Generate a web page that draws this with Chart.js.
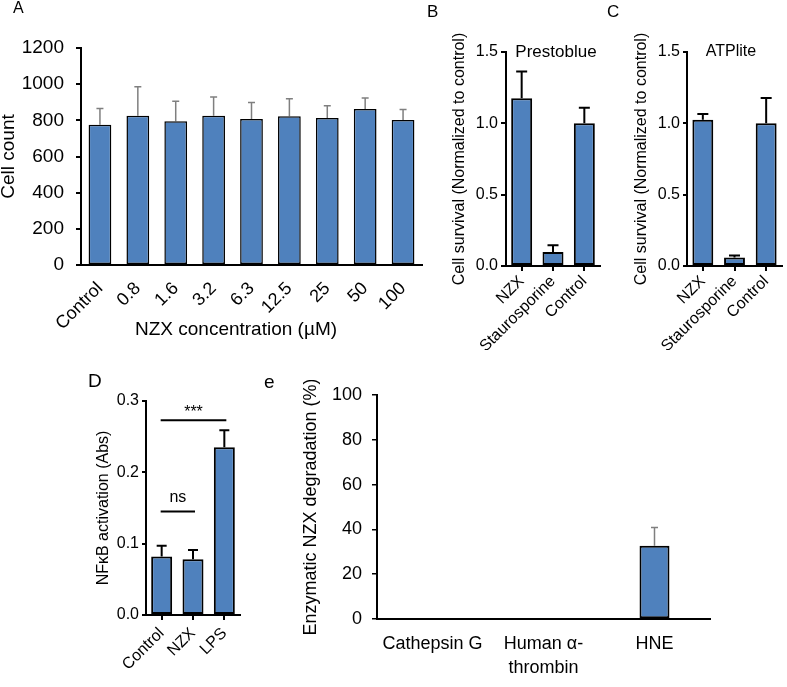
<!DOCTYPE html>
<html><head><meta charset="utf-8">
<script src="https://cdn.jsdelivr.net/npm/chart.js@4/dist/chart.umd.min.js"></script>
<style>
html,body{margin:0;padding:0;background:#fff;}
#fig{position:relative;width:787px;height:687px;overflow:hidden;background:#fff;font-family:'Liberation Sans',Arial,sans-serif;color:#000;}
#fig canvas{position:absolute;}
.lab{position:absolute;line-height:1;white-space:nowrap;}
</style></head><body>
<div id="fig">
<canvas id="cA" width="430" height="345" style="left:0px;top:0px"></canvas>
<canvas id="cB" width="185" height="350" style="left:420px;top:0px"></canvas>
<canvas id="cC" width="182" height="350" style="left:605px;top:0px"></canvas>
<canvas id="cD" width="190" height="302" style="left:60px;top:385px"></canvas>
<canvas id="cE" width="507" height="307" style="left:280px;top:380px"></canvas>
<div class="lab" style="left:13px;top:0px;font-size:16px">A</div>
<div class="lab" style="left:427px;top:3px;font-size:17px">B</div>
<div class="lab" style="left:607px;top:3px;font-size:17px">C</div>
<div class="lab" style="left:88px;top:371px;font-size:19px">D</div>
<div class="lab" style="left:264px;top:372px;font-size:19px">e</div>
</div>
<script>
// ---------- data ----------
const catsA = ['Control', '0.8', '1.6', '3.2', '6.3', '12.5', '25', '50', '100'];
const countA = [775, 825, 795, 825, 808, 823, 813, 862, 802];
const errA = [90, 161, 110, 104, 90, 96, 68, 62, 58];
const ticksA = [0, 200, 400, 600, 800, 1000, 1200];

const catsBC = ['NZX', 'Staurosporine', 'Control'];
const survivalB = [1.175, 0.098, 1.0];
const errB = [0.188, 0.047, 0.11];
const survivalC = [1.025, 0.06, 1.0];
const errC = [0.04, 0.013, 0.178];
const ticksBC = [0, 0.5, 1.0, 1.5];

const catsD = ['Control', 'NZX', 'LPS'];
const nfkbD = [0.082, 0.078, 0.235];
const errD = [0.015, 0.013, 0.024];
const ticksD = [0, 0.1, 0.2, 0.3];
const sigD = [
  { from: 'Control', to: 'LPS', y: 0.273, text: '***' },
  { from: 'Control', to: 'NZX', y: 0.145, text: 'ns' }
];

const catsE = ['Cathepsin G', ['Human α-', 'thrombin'], 'HNE'];
const degE = [0, 0, 32.7];
const errE = [0, 0, 8.2];
const ticksE = [0, 20, 40, 60, 80, 100];

const titleB = 'Prestoblue';
const titleC = 'ATPlite';
const yTitleA = 'Cell count';
const xTitleA = 'NZX concentration (µM)';
const yTitleBC = 'Cell survival (Normalized to control)';
const yTitleD = 'NFκB activation (Abs)';
const yTitleE = 'Enzymatic NZX degradation (%)';

// ---------- helpers ----------
const FONT = "'Liberation Sans', Arial, sans-serif";
const BLUE = '#4F81BD';
Chart.defaults.font.family = FONT;
Chart.defaults.color = '#000';

const errorBars = {
  id: 'errorBars',
  beforeDatasetsDraw(chart, args, opts) {
    const ctx = chart.ctx, ys = chart.scales.y;
    const meta = chart.getDatasetMeta(0);
    const vals = chart.data.datasets[0].data;
    const errs = opts.errors || [];
    ctx.save();
    ctx.strokeStyle = opts.color;
    ctx.lineWidth = opts.width;
    meta.data.forEach((bar, i) => {
      const e = errs[i];
      if (!e) return;
      const x = bar.x;
      const y0 = ys.getPixelForValue(vals[i]);
      const y1 = ys.getPixelForValue(vals[i] + e);
      ctx.beginPath();
      ctx.moveTo(x, y0);
      ctx.lineTo(x, y1);
      ctx.moveTo(x - opts.cap / 2, y1);
      ctx.lineTo(x + opts.cap / 2, y1);
      ctx.stroke();
    });
    ctx.restore();
  }
};

// y tick labels, drawn at the y scale's own tick positions
const yLabels = {
  id: 'yLabels',
  afterDraw(chart, args, opts) {
    const ctx = chart.ctx, ys = chart.scales.y;
    ctx.save();
    ctx.font = opts.size + 'px ' + FONT;
    ctx.fillStyle = '#000';
    ctx.textAlign = 'right';
    ctx.textBaseline = 'middle';
    ys.ticks.forEach(t => {
      ctx.fillText(opts.fmt(t.value), ys.right - opts.offset, ys.getPixelForValue(t.value));
    });
    ctx.restore();
  }
};

const sigBars = {
  id: 'sigBars',
  afterDatasetsDraw(chart, args, opts) {
    const items = opts.items || [];
    if (!items.length) return;
    const ctx = chart.ctx, xs = chart.scales.x, ys = chart.scales.y;
    const labels = chart.data.labels;
    ctx.save();
    ctx.strokeStyle = '#000';
    ctx.fillStyle = '#000';
    ctx.lineWidth = 2;
    ctx.textAlign = 'center';
    ctx.textBaseline = 'alphabetic';
    items.forEach(it => {
      const x1 = xs.getPixelForValue(labels.indexOf(it.from)) - 1;
      const x2 = xs.getPixelForValue(labels.indexOf(it.to)) + 2;
      const y = ys.getPixelForValue(it.y);
      ctx.beginPath();
      ctx.moveTo(x1, y);
      ctx.lineTo(x2, y);
      ctx.stroke();
      const star = it.text.indexOf('*') >= 0;
      ctx.font = '16px ' + FONT;
      ctx.fillText(it.text, (x1 + x2) / 2, y - (star ? 3 : 10));
    });
    ctx.restore();
  }
};

const captions = {
  id: 'captions',
  afterDraw(chart, args, opts) {
    const ctx = chart.ctx, ca = chart.chartArea;
    (opts.items || []).forEach(c => {
      ctx.save();
      ctx.font = c.size + 'px ' + FONT;
      ctx.fillStyle = '#000';
      ctx.textAlign = 'center';
      ctx.textBaseline = 'middle';
      ctx.fillText(c.text, ca.left + c.dx, c.fromBottom ? ca.bottom + c.dy : ca.top + c.dy);
      ctx.restore();
    });
  }
};

function makeBar(id, o) {
  return new Chart(document.getElementById(id), {
    type: 'bar',
    data: {
      labels: o.labels,
      datasets: [{
        data: o.values,
        backgroundColor: BLUE,
        borderColor: '#000',
        borderWidth: o.barBorder,
        borderSkipped: false,
        barPercentage: o.barPct,
        categoryPercentage: 1
      }]
    },
    options: {
      responsive: false,
      animation: false,
      devicePixelRatio: 1,
      layout: { padding: o.pad },
      plugins: {
        legend: { display: false },
        tooltip: { enabled: false },
        errorBars: o.err,
        yLabels: { size: o.yFont, offset: o.yTickLen + o.yPad, fmt: o.yFmt },
        sigBars: { items: o.sig || [] },
        captions: { items: o.captions || [] }
      },
      scales: {
        x: {
          offset: true,
          ticks: {
            color: '#000', font: { family: FONT, size: o.xFont, lineHeight: o.xLineH || 1.2 },
            padding: o.xPad, maxRotation: o.rot, minRotation: o.rot, autoSkip: false
          },
          grid: {
            display: o.xTicks, drawOnChartArea: false, drawTicks: true,
            tickLength: 5, color: '#000', lineWidth: 2, offset: false
          },
          border: { display: true, color: '#000', width: 2 },
          afterFit: s => { s.height = o.xH; }
        },
        y: {
          min: o.yTicks[0],
          max: o.yTicks[o.yTicks.length - 1],
          afterBuildTicks: s => { s.ticks = o.yTicks.map(v => ({ value: v })); },
          ticks: { display: false },
          grid: {
            display: true, drawOnChartArea: false, drawTicks: true,
            tickLength: o.yTickLen, color: '#000', lineWidth: o.yTickW
          },
          border: { display: true, color: '#000', width: 2 },
          title: {
            display: true, text: o.yTitle, color: '#000',
            font: { family: FONT, size: o.yTitleFont }, padding: { top: o.yTitlePad, bottom: 0 }
          },
          afterFit: s => { s.width = o.yW; }
        }
      }
    },
    plugins: [errorBars, yLabels, sigBars, captions]
  });
}

// Panel A
makeBar('cA', {
  labels: catsA, values: countA, barBorder: 1.5, barPct: 0.6,
  pad: { left: 0, top: 48, right: 8, bottom: 0 },
  xFont: 18, xPad: 8, rot: 45, xTicks: false, xH: 80,
  yTicks: ticksA, yFont: 19, yPad: 12, yTickLen: 5, yTickW: 2,
  yFmt: v => String(v), yTitle: yTitleA, yTitleFont: 19, yTitlePad: -3, yW: 81,
  err: { errors: errA, color: '#7F7F7F', width: 1.5, cap: 7 },
  captions: [{ text: xTitleA, size: 19, dx: 155, dy: 65, fromBottom: true }]
});

// Panel B
makeBar('cB', {
  labels: catsBC, values: survivalB, barBorder: 2, barPct: 0.67,
  pad: { left: 30, top: 52, right: 5, bottom: 0 },
  xFont: 16, xPad: 1, rot: 45, xTicks: true, xH: 84,
  yTicks: ticksBC, yFont: 16, yPad: 3, yTickLen: 5, yTickW: 2,
  yFmt: v => v.toFixed(1), yTitle: yTitleBC, yTitleFont: 16, yTitlePad: 0, yW: 56,
  err: { errors: errB, color: '#000', width: 2, cap: 11 },
  captions: [{ text: titleB, size: 17, dx: 50, dy: 0 }]
});

// Panel C
makeBar('cC', {
  labels: catsBC, values: survivalC, barBorder: 2, barPct: 0.66,
  pad: { left: 27, top: 52, right: 5, bottom: 0 },
  xFont: 16, xPad: 1, rot: 45, xTicks: true, xH: 84,
  yTicks: ticksBC, yFont: 16, yPad: 3, yTickLen: 4, yTickW: 2,
  yFmt: v => v.toFixed(1), yTitle: yTitleBC, yTitleFont: 16, yTitlePad: 0, yW: 55,
  err: { errors: errC, color: '#000', width: 2, cap: 11 },
  captions: [{ text: titleC, size: 16, dx: 44, dy: 0 }]
});

// Panel D
makeBar('cD', {
  labels: catsD, values: nfkbD, barBorder: 2, barPct: 0.67,
  pad: { left: 34, top: 16, right: 10, bottom: 0 },
  xFont: 16, xPad: 4, rot: 45, xTicks: true, xH: 72,
  yTicks: ticksD, yFont: 16, yPad: 3, yTickLen: 4, yTickW: 2,
  yFmt: v => v.toFixed(1), yTitle: yTitleD, yTitleFont: 16, yTitlePad: 0, yW: 52,
  err: { errors: errD, color: '#000', width: 2, cap: 10 },
  sig: sigD
});

// Panel E
makeBar('cE', {
  labels: catsE, values: degE, barBorder: 2, barPct: 0.27,
  pad: { left: 20, top: 15, right: 77, bottom: 0 },
  xFont: 18, xLineH: 1.28, xPad: 9, rot: 0, xTicks: false, xH: 68,
  yTicks: ticksE, yFont: 18, yPad: 10, yTickLen: 5, yTickW: 1.5,
  yFmt: v => String(v), yTitle: yTitleE, yTitleFont: 18, yTitlePad: 0, yW: 77,
  err: { errors: errE, color: '#7F7F7F', width: 1.5, cap: 7 }
});
</script>
</body></html>
